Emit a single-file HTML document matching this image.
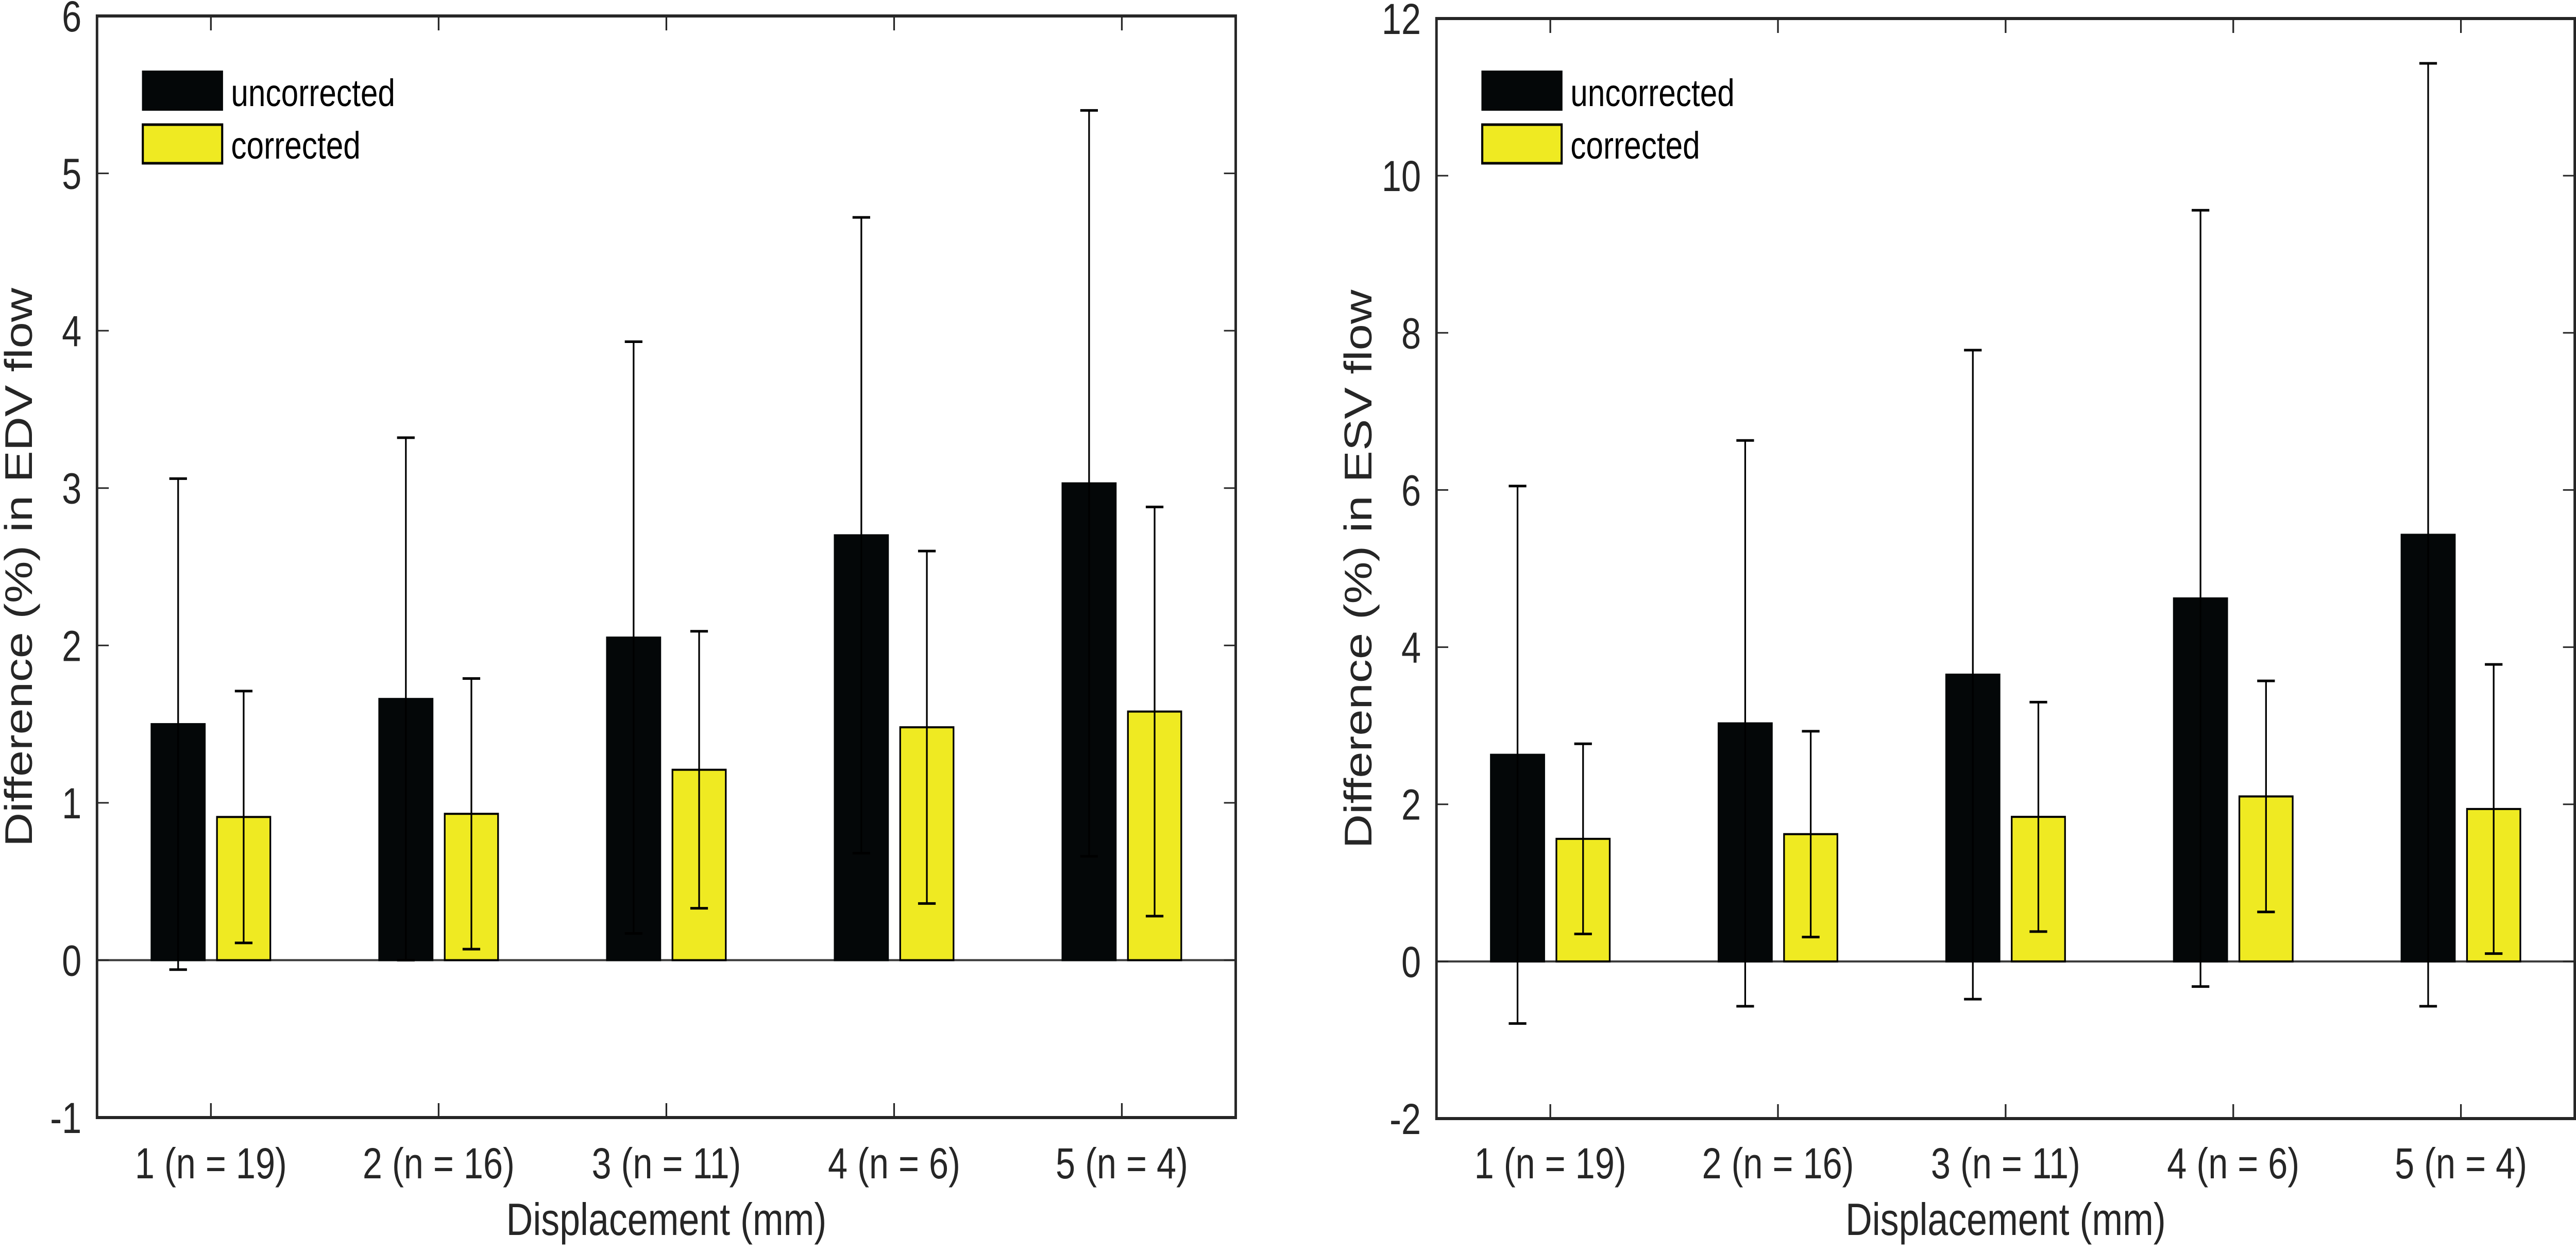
<!DOCTYPE html>
<html><head><meta charset="utf-8"><style>
html,body{margin:0;padding:0;background:#fff;overflow:hidden;width:100%;height:100%;}
svg{display:block;position:fixed;left:0;top:0;width:100vw;height:100vh;font-family:"Liberation Sans",Arial,sans-serif;}
</style></head><body>
<svg id="fig" viewBox="0 0 6133 2433" preserveAspectRatio="none" xmlns="http://www.w3.org/2000/svg">
<rect x="0" y="0" width="6133" height="2433" fill="#fff"/>
</svg>
<script>
const categories = ["1 (n = 19)", "2 (n = 16)", "3 (n = 11)", "4 (n = 6)", "5 (n = 4)"];
const edvUncorrected = [1.50, 1.66, 2.05, 2.70, 3.03];
const edvUncorrectedErr = [1.56, 1.66, 1.88, 2.02, 2.37];
const edvCorrected = [0.91, 0.93, 1.21, 1.48, 1.58];
const edvCorrectedErr = [0.80, 0.86, 0.88, 1.12, 1.30];
const esvUncorrected = [2.63, 3.03, 3.65, 4.62, 5.43];
const esvUncorrectedErr = [3.42, 3.60, 4.13, 4.94, 6.00];
const esvCorrected = [1.56, 1.62, 1.84, 2.10, 1.94];
const esvCorrectedErr = [1.21, 1.31, 1.46, 1.47, 1.84];
const edvTicks = [-1, 0, 1, 2, 3, 4, 5, 6];
const esvTicks = [-2, 0, 2, 4, 6, 8, 10, 12];

const NS = "http://www.w3.org/2000/svg";
const svg = document.getElementById("fig");
function mk(tag, attrs, parent) {
  const e = document.createElementNS(NS, tag);
  for (const k in attrs) e.setAttribute(k, attrs[k]);
  (parent || svg).appendChild(e);
  return e;
}

function drawPanel(cfg) {
  const g = mk("g", {});
  
  
  const L = cfg.left, R = cfg.right, T = cfg.top, B = cfg.bottom;
  const ymin = cfg.ticks[0], ymax = cfg.ticks[cfg.ticks.length - 1];
  const yS = v => B - (v - ymin) / (ymax - ymin) * (B - T);
  const xS = i => L + (i + 0.5) / categories.length * (R - L);
  const bw = 127, off = 78;

  const z = mk("line", {x1: L, x2: R, y1: yS(0), y2: yS(0), stroke: "#3a3a3a", "stroke-width": 4}, g);
  
  

  for (let i = 0; i < categories.length; i++) {
    const series = [
      {v: cfg.unc[i], e: cfg.uncErr[i], dx: -off, fill: "#040708", stroke: "#040708", n: "bar-uncorrected-" + (i + 1)},
      {v: cfg.cor[i], e: cfg.corErr[i], dx: off, fill: "#efea22", stroke: "#000", n: "bar-corrected-" + (i + 1)}
    ];
    for (const s of series) {
      const cx = xS(i) + s.dx;
      const y0 = yS(0), y1 = yS(s.v);
      const r = mk("rect", {x: cx - bw / 2, y: Math.min(y0, y1), width: bw, height: Math.abs(y0 - y1), fill: s.fill, stroke: s.stroke, "stroke-width": 4}, g);
      
      
      const hi = yS(s.v + s.e), lo = yS(s.v - s.e);
      const eb = mk("g", {stroke: "#000", "stroke-width": 4}, g);
      
      
      mk("line", {x1: cx, x2: cx, y1: hi, y2: lo}, eb);
      mk("line", {x1: cx - 21, x2: cx + 21, y1: hi, y2: hi, "stroke-width": 5}, eb);
      mk("line", {x1: cx - 21, x2: cx + 21, y1: lo, y2: lo, "stroke-width": 5}, eb);
    }
    const tk = mk("g", {stroke: "#262626", "stroke-width": 4}, g);
    
    
    mk("line", {x1: xS(i), x2: xS(i), y1: B, y2: B - 28}, tk);
    mk("line", {x1: xS(i), x2: xS(i), y1: T, y2: T + 28}, tk);
    const lab = mk("text", {x: xS(i), y: 2288, "font-size": 84, fill: "#262626", "text-anchor": "middle"}, g);
    lab.textContent = categories[i];
    
    
  }

  for (const t of cfg.ticks) {
    const y = yS(t);
    const tk = mk("g", {stroke: "#262626", "stroke-width": 3}, g);
    
    
    mk("line", {x1: L, x2: L + 28, y1: y, y2: y}, tk);
    mk("line", {x1: R, x2: R - 28, y1: y, y2: y}, tk);
    const lab = mk("text", {x: L - 37, y: y + 30, "font-size": 84, fill: "#262626", "text-anchor": "end"}, g);
    lab.textContent = String(t);
    
    
  }

  const box = mk("rect", {x: L, y: T, width: R - L, height: B - T, fill: "none", stroke: "#262626", "stroke-width": 6}, g);
  
  

  const lg = mk("g", {}, g);
  
  
  const lx = L + 107;
  const b1 = mk("rect", {x: lx, y: 137, width: 193, height: 78, fill: "#040708"}, lg);
  
  
  const t1 = mk("text", {x: lx + 212, y: 206, "font-size": 74, fill: "#000"}, lg);
  t1.textContent = "uncorrected";
  
  
  const b2 = mk("rect", {x: lx + 2, y: 242, width: 189, height: 75, fill: "#efea22", stroke: "#000", "stroke-width": 5}, lg);
  
  
  const t2 = mk("text", {x: lx + 212, y: 308, "font-size": 74, fill: "#000"}, lg);
  t2.textContent = "corrected";
  
  

  const xt = mk("text", {x: (L + R) / 2, y: 2398, "font-size": 88, fill: "#262626", "text-anchor": "middle"}, g);
  xt.textContent = "Displacement (mm)";
  
  
  const yt = mk("text", {x: 0, y: 0, "font-size": 92, fill: "#262626", "text-anchor": "middle",
    textLength: 1085, lengthAdjust: "spacingAndGlyphs",
    transform: "translate(" + (L - 155) + "," + ((T + B) / 2 + 1) + ") rotate(-90)"}, g);
  yt.textContent = cfg.ylabel;
  
  
}

drawPanel({name: "edv-chart", left: 231, right: 2942, top: 31, bottom: 2170, ticks: edvTicks,
  unc: edvUncorrected, uncErr: edvUncorrectedErr, cor: edvCorrected, corErr: edvCorrectedErr,
  ylabel: "Difference (%) in EDV flow"});
drawPanel({name: "esv-chart", left: 3420, right: 6130, top: 36, bottom: 2172, ticks: esvTicks,
  unc: esvUncorrected, uncErr: esvUncorrectedErr, cor: esvCorrected, corErr: esvCorrectedErr,
  ylabel: "Difference (%) in ESV flow"});
</script>
</body></html>
